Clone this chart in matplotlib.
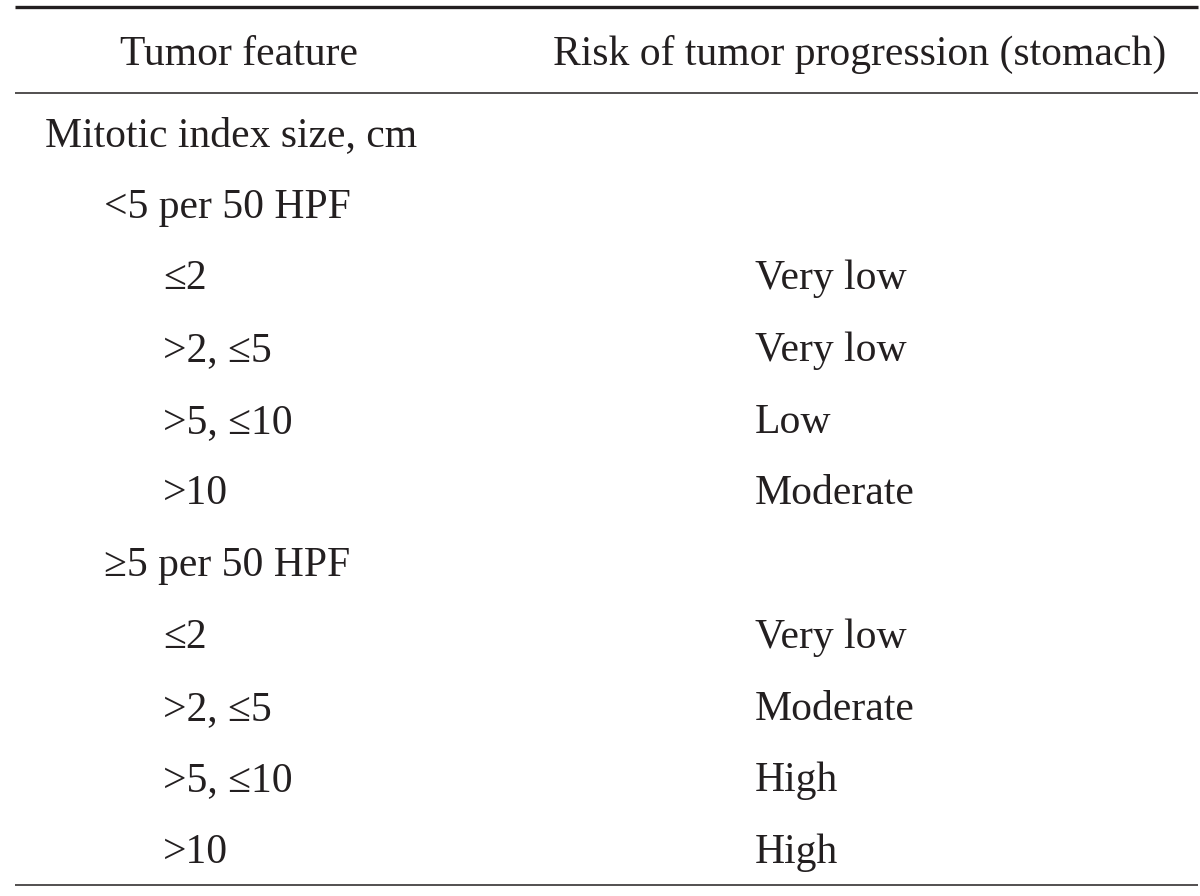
import matplotlib.pyplot as plt

# table content
headers = ['Tumor feature', 'Risk of tumor progression (stomach)']
features = ['Mitotic index size, cm',
            '<5 per 50 HPF', '≤2', '>2, ≤5', '>5, ≤10', '>10',
            '≥5 per 50 HPF', '≤2', '>2, ≤5', '>5, ≤10', '>10']
indent = [0, 1, 2, 2, 2, 2, 1, 2, 2, 2, 2]
risk = ['', '', 'Very low', 'Very low', 'Low', 'Moderate',
        '', 'Very low', 'Moderate', 'High', 'High']

plt.rcParams['font.family'] = ['Liberation Serif', 'DejaVu Serif']

fig = plt.figure(figsize=(12, 8.96), dpi=100)
ax = fig.add_axes([0, 0, 1, 1])
ax.set_xlim(0, 1200)
ax.set_ylim(896, 0)
ax.axis('off')

fs = 30
col = '#231f20'

# rules
ax.plot([15, 1198], [7, 7], color=col, lw=2.4, solid_capstyle='butt')
ax.plot([15, 1198], [93, 93], color=col, lw=1.1, solid_capstyle='butt')
ax.plot([15, 1198], [885, 885], color=col, lw=1.1, solid_capstyle='butt')

# header
ax.text(239, 65, headers[0], fontsize=fs, color=col, ha='center', va='baseline')
ax.text(860, 65, headers[1], fontsize=fs, color=col, ha='center', va='baseline')

# body rows
x_ind = [45, 104, 163]
for i, (f, lev, r) in enumerate(zip(features, indent, risk)):
    y = 146 + i * 71.7
    ax.text(x_ind[lev], y, f, fontsize=fs, color=col, ha='left', va='baseline')
    if r:
        ax.text(755, y, r, fontsize=fs, color=col, ha='left', va='baseline')

fig.savefig('out.png', dpi=100)
